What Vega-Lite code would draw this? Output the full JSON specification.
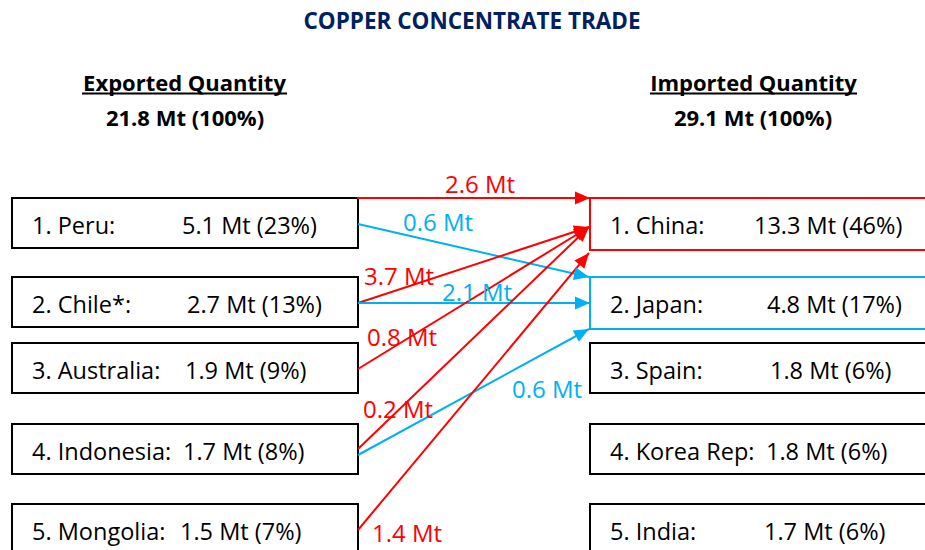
{
  "$schema": "https://vega.github.io/schema/vega-lite/v6.json",
  "width": 925,
  "height": 550,
  "autosize": {"type": "none"},
  "padding": 0,
  "background": "white",
  "config": {"view": {"stroke": null}, "font": "Open Sans"},
  "datasets": {
    "boxes": [
      {"side": "Exporter", "name": "1. Peru:", "value": "5.1 Mt (23%)", "hl": "none", "x1": 12, "x2": 358, "y1": 198, "y2": 248, "vx": 182},
      {"side": "Exporter", "name": "2. Chile*:", "value": "2.7 Mt (13%)", "hl": "none", "x1": 12, "x2": 358, "y1": 277, "y2": 327, "vx": 187},
      {"side": "Exporter", "name": "3. Australia:", "value": "1.9 Mt (9%)", "hl": "none", "x1": 12, "x2": 358, "y1": 343, "y2": 393, "vx": 185},
      {"side": "Exporter", "name": "4. Indonesia:", "value": "1.7 Mt (8%)", "hl": "none", "x1": 12, "x2": 358, "y1": 424, "y2": 474, "vx": 183},
      {"side": "Exporter", "name": "5. Mongolia:", "value": "1.5 Mt (7%)", "hl": "none", "x1": 12, "x2": 358, "y1": 504, "y2": 556, "vx": 180},
      {"side": "Importer", "name": "1. China:", "value": "13.3 Mt (46%)", "hl": "China", "x1": 590, "x2": 940, "y1": 198, "y2": 250, "vx": 754},
      {"side": "Importer", "name": "2. Japan:", "value": "4.8 Mt (17%)", "hl": "Japan", "x1": 590, "x2": 940, "y1": 277, "y2": 329, "vx": 767},
      {"side": "Importer", "name": "3. Spain:", "value": "1.8 Mt (6%)", "hl": "none", "x1": 590, "x2": 940, "y1": 343, "y2": 393, "vx": 770},
      {"side": "Importer", "name": "4. Korea Rep:", "value": "1.8 Mt (6%)", "hl": "none", "x1": 590, "x2": 940, "y1": 424, "y2": 474, "vx": 766},
      {"side": "Importer", "name": "5. India:", "value": "1.7 Mt (6%)", "hl": "none", "x1": 590, "x2": 940, "y1": 504, "y2": 556, "vx": 764}
    ],
    "flows": [
      {"from": "Peru", "hl": "China", "label": "2.6 Mt", "sx": 357, "sy": 198, "tx": 590, "ty": 198, "lx": 480, "ly": 186},
      {"from": "Peru", "hl": "Japan", "label": "0.6 Mt", "sx": 358, "sy": 224, "tx": 589, "ty": 277, "lx": 438, "ly": 224},
      {"from": "Chile", "hl": "China", "label": "3.7 Mt", "sx": 358, "sy": 303, "tx": 589, "ty": 227, "lx": 399, "ly": 278},
      {"from": "Chile", "hl": "Japan", "label": "2.1 Mt", "sx": 358, "sy": 303, "tx": 590, "ty": 303, "lx": 477, "ly": 294},
      {"from": "Australia", "hl": "China", "label": "0.8 Mt", "sx": 358, "sy": 369, "tx": 589, "ty": 227, "lx": 402, "ly": 339},
      {"from": "Indonesia", "hl": "China", "label": "0.2 Mt", "sx": 358, "sy": 449, "tx": 589, "ty": 227, "lx": 398, "ly": 411},
      {"from": "Indonesia", "hl": "Japan", "label": "0.6 Mt", "sx": 358, "sy": 455, "tx": 589, "ty": 329, "lx": 547, "ly": 391},
      {"from": "Mongolia", "hl": "China", "label": "1.4 Mt", "sx": 358, "sy": 530, "tx": 589, "ty": 253, "lx": 407, "ly": 535}
    ]
  },
  "layer": [
    {
      "data": {"name": "boxes"},
      "mark": {"type": "rect", "fill": "white", "strokeWidth": 2},
      "encoding": {
        "x": {"field": "x1", "type": "quantitative", "scale": {"domain": [0, 925], "nice": false, "zero": false}, "axis": null},
        "x2": {"field": "x2"},
        "y": {"field": "y1", "type": "quantitative", "scale": {"domain": [0, 550], "nice": false, "zero": false, "reverse": true}, "axis": null},
        "y2": {"field": "y2"},
        "stroke": {"field": "hl", "type": "nominal", "scale": {"domain": ["China", "Japan", "none"], "range": ["#FF0000", "#00B0F0", "#000000"]}, "legend": null}
      }
    },
    {
      "data": {"name": "boxes"},
      "mark": {"type": "text", "align": "left", "baseline": "alphabetic", "dx": 20, "dy": 35.5, "fontSize": 23.5, "color": "#000000"},
      "encoding": {
        "x": {"field": "x1", "type": "quantitative", "axis": null},
        "y": {"field": "y1", "type": "quantitative", "axis": null},
        "text": {"field": "name"}
      }
    },
    {
      "data": {"name": "boxes"},
      "mark": {"type": "text", "align": "left", "baseline": "alphabetic", "dy": 35.5, "fontSize": 23.5, "color": "#000000"},
      "encoding": {
        "x": {"field": "vx", "type": "quantitative", "axis": null},
        "y": {"field": "y1", "type": "quantitative", "axis": null},
        "text": {"field": "value"}
      }
    },
    {
      "data": {"name": "flows"},
      "mark": {"type": "rule", "strokeWidth": 2},
      "encoding": {
        "x": {"field": "sx", "type": "quantitative", "axis": null},
        "y": {"field": "sy", "type": "quantitative", "axis": null},
        "x2": {"field": "tx"},
        "y2": {"field": "ty"},
        "color": {"field": "hl", "type": "nominal", "scale": {"domain": ["China", "Japan", "none"], "range": ["#FF0000", "#00B0F0", "#000000"]}, "legend": null}
      }
    },
    {
      "data": {"name": "flows"},
      "transform": [{"calculate": "atan2(datum.ty - datum.sy, datum.tx - datum.sx) * 180 / PI", "as": "ang"}],
      "mark": {"type": "point", "shape": "M0,0L-1,-0.43L-1,0.43Z", "filled": true, "size": 900, "opacity": 1, "strokeWidth": 0},
      "encoding": {
        "x": {"field": "tx", "type": "quantitative", "axis": null},
        "y": {"field": "ty", "type": "quantitative", "axis": null},
        "angle": {"field": "ang", "type": "quantitative", "scale": null},
        "color": {"field": "hl", "type": "nominal", "scale": {"domain": ["China", "Japan", "none"], "range": ["#FF0000", "#00B0F0", "#000000"]}, "legend": null}
      }
    },
    {
      "data": {"name": "flows"},
      "mark": {"type": "text", "align": "center", "baseline": "middle", "fontSize": 24},
      "encoding": {
        "x": {"field": "lx", "type": "quantitative", "axis": null},
        "y": {"field": "ly", "type": "quantitative", "axis": null},
        "text": {"field": "label"},
        "color": {"field": "hl", "type": "nominal", "scale": {"domain": ["China", "Japan", "none"], "range": ["#FF0000", "#00B0F0", "#000000"]}, "legend": null}
      }
    },
    {
      "data": {"values": [{"t": "COPPER CONCENTRATE TRADE", "x": 472, "y": 29}]},
      "mark": {"type": "text", "align": "center", "baseline": "alphabetic", "fontSize": 22.5, "fontWeight": "bold", "color": "#002060"},
      "encoding": {
        "x": {"field": "x", "type": "quantitative", "axis": null},
        "y": {"field": "y", "type": "quantitative", "axis": null},
        "text": {"field": "t"}
      }
    },
    {
      "data": {"values": [
        {"t": "Exported Quantity", "x": 184.5, "y": 90.5},
        {"t": "21.8 Mt (100%)", "x": 185, "y": 126},
        {"t": "Imported Quantity", "x": 753.5, "y": 90.5},
        {"t": "29.1 Mt (100%)", "x": 753, "y": 126}
      ]},
      "mark": {"type": "text", "align": "center", "baseline": "alphabetic", "fontSize": 22, "fontWeight": "bold", "color": "#000000"},
      "encoding": {
        "x": {"field": "x", "type": "quantitative", "axis": null},
        "y": {"field": "y", "type": "quantitative", "axis": null},
        "text": {"field": "t"}
      }
    },
    {
      "data": {"values": [
        {"x1": 82, "x2": 287, "y": 93.5},
        {"x1": 650, "x2": 857, "y": 93.5}
      ]},
      "mark": {"type": "rule", "strokeWidth": 1.8, "color": "#000000"},
      "encoding": {
        "x": {"field": "x1", "type": "quantitative", "axis": null},
        "x2": {"field": "x2"},
        "y": {"field": "y", "type": "quantitative", "axis": null}
      }
    }
  ]
}
